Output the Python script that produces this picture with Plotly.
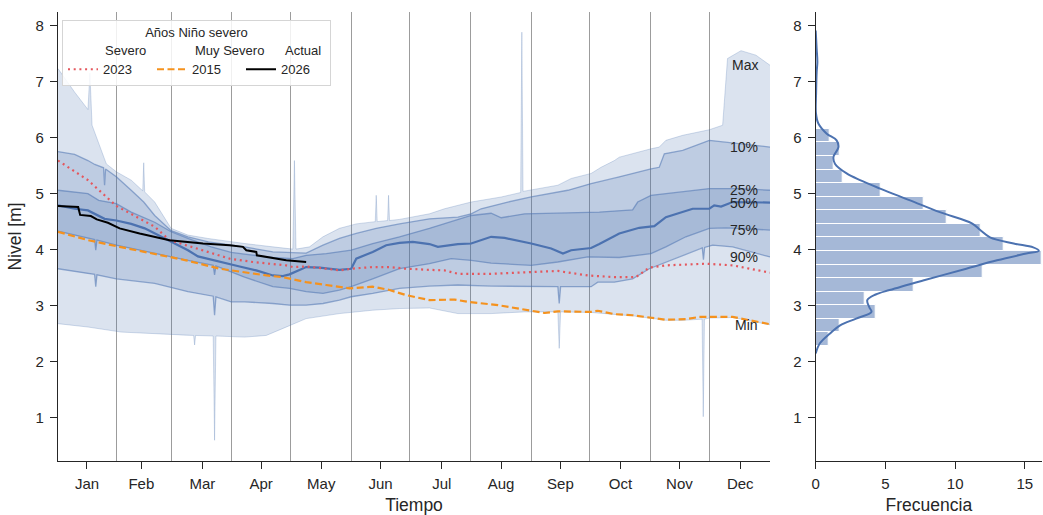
import plotly.graph_objects as go

# ---------------- data ----------------
month_labels = ["Jan", "Feb", "Mar", "Apr", "May", "Jun", "Jul", "Aug", "Sep", "Oct", "Nov", "Dec"]
month_tick_days = [16, 43.8, 75, 105, 135.7, 166, 197.3, 227.6, 257.9, 288.6, 318.7, 349.8]
month_start_days = [31, 59, 90, 120, 151, 181, 212, 243, 273, 304, 334, 365]

max_days = [1.2, 9.7, 16.5, 17.5, 18.6, 25.9, 31, 38.6, 44.5, 45, 45.5, 50.6, 59, 67.6, 77.8, 89.7, 96.5,
            111, 121.2, 122, 122.8, 129.7, 136.6, 145, 153.6, 163.3, 163.8, 164.3, 169.6, 170.1, 170.6, 175.7,
            191, 198.7, 212.3, 227.7, 237.6, 238.2, 238.8, 256.6, 263.4, 273.6, 278.7, 285.5, 288, 304.2,
            308.4, 311.8, 320.4, 334, 340.8, 343.3, 350.2, 357.8, 365]
max_vals = [7.23, 6.81, 6.50, 7.15, 6.22, 5.53, 5.39, 5.24, 5.05, 5.55, 5.03, 4.85, 4.38, 4.26, 4.20, 4.14, 4.11,
            4.05, 4.01, 5.59, 4.01, 4.05, 4.23, 4.38, 4.46, 4.50, 4.97, 4.50, 4.52, 4.97, 4.52, 4.54,
            4.64, 4.73, 4.85, 4.94, 5.02, 7.88, 5.04, 5.15, 5.27, 5.36, 5.47, 5.59, 5.65, 5.80,
            5.83, 5.95, 6.04, 6.14, 6.22, 7.41, 7.55, 7.47, 7.29]

p10_days = [1.2, 9.7, 16.5, 20, 24.5, 25, 25.5, 31, 38.6, 45, 50.6, 59, 67.6, 78, 90, 96.5, 111, 121.2, 128,
            136.6, 145, 153.6, 163.8, 175.7, 191, 205.5, 212.3, 217.4, 231, 243, 261.7, 273.6, 285.5, 288,
            304.2, 308.4, 311, 320.4, 334, 345.9, 365]
p10_vals = [5.75, 5.70, 5.59, 5.52, 5.46, 5.15, 5.44, 5.30, 5.06, 4.85, 4.61, 4.34, 4.23, 4.14, 4.08, 4.05, 3.96,
            3.94, 3.94, 4.08, 4.20, 4.29, 4.38, 4.46, 4.55, 4.58, 4.64, 4.73, 4.85, 4.94, 5.06, 5.18, 5.27,
            5.30, 5.44, 5.47, 5.71, 5.77, 5.95, 5.90, 5.83]

p25_days = [1.2, 16.5, 22, 31, 38.6, 50.6, 59, 67.6, 79.5, 89.7, 96.5, 111, 121.2, 128, 138.3, 151, 162, 175.7,
            191, 212.3, 222.5, 227.7, 239.6, 256.6, 277.8, 294.8, 297.4, 304.2, 320.4, 334, 349.3, 365]
p25_vals = [5.06, 5.00, 4.88, 4.82, 4.67, 4.49, 4.32, 4.20, 4.05, 3.95, 3.92, 3.86, 3.84, 3.90, 3.93, 3.99, 4.11,
            4.23, 4.38, 4.61, 4.65, 4.57, 4.64, 4.65, 4.67, 4.71, 4.85, 4.97, 5.03, 5.09, 5.09, 5.06]

p50_days = [1.2, 9.7, 16.5, 25, 31, 38.6, 45.5, 50.6, 59, 67.6, 72.7, 83.8, 94, 102.5, 111, 116.1, 119.5, 128,
            134.9, 145, 151, 153.6, 162, 168.9, 175.7, 182.5, 191, 195.3, 205.5, 212.3, 222.5, 229.4, 243,
            253.2, 259.2, 263.4, 273.6, 277.8, 288, 298.2, 305.9, 311.8, 318.7, 325.5, 334, 336.5, 340,
            345.9, 365]
p50_vals = [4.79, 4.73, 4.70, 4.55, 4.52, 4.46, 4.38, 4.29, 4.14, 3.99, 3.88, 3.78, 3.70, 3.63, 3.54, 3.53, 3.56,
            3.69, 3.68, 3.64, 3.66, 3.84, 3.96, 4.08, 4.12, 4.14, 4.10, 4.05, 4.10, 4.11, 4.23, 4.21, 4.11,
            4.02, 3.93, 3.99, 4.03, 4.10, 4.29, 4.39, 4.42, 4.58, 4.65, 4.73, 4.73, 4.79, 4.77, 4.85, 4.84]

p75_days = [1.2, 16.5, 19.9, 20.5, 21.1, 31, 50.6, 67.6, 80.5, 81.2, 81.9, 96.5, 111, 119.5, 128, 136.6, 145,
            151, 162, 175.7, 191, 202.1, 212.3, 222.5, 243, 256.6, 271.9, 288, 304.2, 311.8, 322, 334, 342.5,
            365]
p75_vals = [4.33, 4.20, 4.18, 3.99, 4.17, 4.08, 3.93, 3.81, 3.72, 3.55, 3.71, 3.51, 3.34, 3.31, 3.25, 3.22, 3.28,
            3.34, 3.48, 3.66, 3.75, 3.84, 3.81, 3.76, 3.72, 3.78, 3.87, 3.86, 3.93, 4.05, 4.23, 4.38, 4.39,
            4.35]

p90_days = [1.2, 16.5, 19.9, 20.5, 21.1, 31, 50.6, 67.6, 80.5, 81.2, 81.9, 89.7, 96.5, 111, 119.5, 128, 136.6,
            145, 151, 162, 175.7, 191, 205.5, 222.5, 243, 256.6, 257.3, 258, 273.6, 277, 285.5, 294.8, 303.3,
            311.8, 328.9, 330.4, 331, 331.6, 335.7, 345.9, 365]
p90_vals = [3.66, 3.57, 3.56, 3.34, 3.55, 3.48, 3.40, 3.25, 3.17, 2.83, 3.16, 3.07, 3.07, 3.04, 3.01, 3.01, 3.04,
            3.10, 3.16, 3.22, 3.31, 3.35, 3.37, 3.35, 3.34, 3.34, 3.04, 3.34, 3.34, 3.42, 3.42, 3.48, 3.66,
            3.78, 4.02, 4.03, 3.82, 4.04, 4.08, 4.05, 3.87]

min_days = [1.2, 16.5, 33.5, 50.6, 67.6, 70.5, 71, 71.5, 80.5, 81.2, 81.9, 96.5, 107.6, 116, 128, 145, 162,
            175.7, 191, 205.5, 222.5, 239.6, 256.6, 257.3, 258, 273.6, 285.5, 294.8, 311.8, 320.4, 330.3,
            330.9, 331.5, 334, 345.9, 365]
min_vals = [2.68, 2.62, 2.53, 2.50, 2.47, 2.47, 2.30, 2.47, 2.46, 0.60, 2.46, 2.44, 2.47, 2.59, 2.77, 2.86, 2.92,
            2.95, 2.96, 2.86, 2.86, 2.89, 2.89, 2.24, 2.89, 2.88, 2.84, 2.82, 2.74, 2.74, 2.76, 1.02, 2.76,
            2.78, 2.79, 2.66]

y2023_days = [1.2, 16.5, 31, 50.6, 58.2, 66.7, 75.3, 88.9, 100.8, 117.8, 121.2, 128, 138.3, 145, 151, 162,
              170.6, 179, 191, 198.7, 205.5, 222.5, 243, 256.6, 271.9, 285.5, 296.5, 303.3, 311.8, 332.3,
              345.9, 365]
y2023_vals = [5.59, 5.24, 4.78, 4.41, 4.17, 4.08, 3.99, 3.84, 3.78, 3.72, 3.69, 3.70, 3.66, 3.63, 3.66, 3.69,
              3.69, 3.66, 3.64, 3.63, 3.57, 3.57, 3.60, 3.62, 3.54, 3.51, 3.51, 3.68, 3.72, 3.75, 3.72, 3.59]

y2015_days = [1.2, 16.5, 32.7, 49.7, 66.7, 83.8, 100.8, 107.6, 116, 128, 138.3, 150.2, 162, 170.6, 179, 191,
              203.8, 210.6, 226, 232.8, 243, 249.8, 256.6, 273.6, 277, 285.5, 294.8, 311.8, 322, 328.9, 345.9,
              365]
y2015_vals = [4.32, 4.17, 4.05, 3.93, 3.81, 3.66, 3.57, 3.54, 3.51, 3.42, 3.37, 3.31, 3.34, 3.28, 3.19, 3.10,
              3.11, 3.07, 3.01, 2.97, 2.92, 2.87, 2.90, 2.89, 2.91, 2.85, 2.83, 2.75, 2.76, 2.80, 2.80, 2.67]

y2026_days = [1.2, 11.5, 12.5, 18, 21, 26.7, 32.7, 42.9, 58.2, 75.3, 88.9, 95.7, 97.4, 102.5, 102.8, 112.7,
              117.8, 128]
y2026_vals = [4.78, 4.76, 4.62, 4.60, 4.54, 4.48, 4.38, 4.29, 4.17, 4.11, 4.08, 4.05, 3.99, 3.96, 3.90, 3.84,
              3.81, 3.78]

pct_labels = ["Max", "10%", "25%", "50%", "75%", "90%", "Min"]

# histogram (percent of observations per level bin)
hist_edges = [2.283, 2.525, 2.767, 3.009, 3.251, 3.493, 3.735, 3.977, 4.219, 4.461, 4.703, 4.945, 5.187,
              5.429, 5.671, 5.913, 6.155]
hist_counts = [0.93, 1.75, 4.33, 3.54, 7.03, 11.99, 16.2, 13.5, 11.8, 9.4, 7.73, 4.69, 1.94, 1.27, 1.75, 1.03]

kde_levels = [2.15, 2.33, 2.50, 2.65, 2.77, 2.89, 2.97, 3.10, 3.20, 3.28, 3.45, 3.66, 3.81, 3.93, 3.98, 4.04,
              4.11, 4.22, 4.35, 4.47, 4.67, 4.88, 5.09, 5.24, 5.36, 5.53, 5.65, 5.83, 5.95, 6.07, 6.25, 6.43,
              6.80, 7.17, 7.35, 7.58, 7.91]
kde_density = [0.0, 0.3, 1.0, 1.75, 2.9, 4.0, 3.85, 3.7, 4.3, 5.3, 7.7, 10.8, 13.0, 15.1, 16.0, 15.6, 14.2,
               12.5, 11.8, 11.2, 8.9, 6.77, 4.62, 3.18, 2.22, 1.39, 1.27, 1.63, 1.5, 0.79, 0.19, 0.02, 0.03,
               0.07, 0.12, 0.07, 0.0]

# ---------------- styling ----------------
BLUE = "#4C72B0"
BAND = "rgba(76,114,176,0.2)"
TXT = "#262626"
FONT = "Liberation Sans, Arial, sans-serif"

fig = go.Figure()


def band(up_d, up_v, lo_d, lo_v):
    fig.add_trace(go.Scatter(x=list(up_d) + list(lo_d)[::-1], y=list(up_v) + list(lo_v)[::-1],
                             fill="toself", fillcolor=BAND, mode="none", showlegend=False,
                             hoverinfo="skip"))


band(max_days, max_vals, min_days, min_vals)
band(p10_days, p10_vals, p90_days, p90_vals)
band(p25_days, p25_vals, p75_days, p75_vals)

for d, v in [(max_days, max_vals), (min_days, min_vals)]:
    fig.add_trace(go.Scatter(x=d, y=v, mode="lines", line=dict(color="rgba(76,114,176,0.25)", width=1),
                             showlegend=False, hoverinfo="skip"))
for d, v in [(p10_days, p10_vals), (p25_days, p25_vals), (p75_days, p75_vals), (p90_days, p90_vals)]:
    fig.add_trace(go.Scatter(x=d, y=v, mode="lines", line=dict(color="rgba(76,114,176,0.55)", width=1.3),
                             showlegend=False, hoverinfo="skip"))
fig.add_trace(go.Scatter(x=p50_days, y=p50_vals, mode="lines", line=dict(color=BLUE, width=2.2),
                         showlegend=False))

fig.add_trace(go.Scatter(x=y2023_days, y=y2023_vals, mode="lines", name="2023",
                         line=dict(color="#e4575d", width=2.2, dash="2px,3.7px")))
fig.add_trace(go.Scatter(x=y2015_days, y=y2015_vals, mode="lines", name="2015",
                         line=dict(color="#f5921e", width=2.2, dash="7px,3.5px")))
fig.add_trace(go.Scatter(x=y2026_days, y=y2026_vals, mode="lines", name="2026",
                         line=dict(color="#000000", width=2)))

# histogram
centers = [(hist_edges[i] + hist_edges[i + 1]) / 2 for i in range(len(hist_counts))]
widths = [hist_edges[i + 1] - hist_edges[i] for i in range(len(hist_counts))]
fig.add_trace(go.Bar(x=hist_counts, y=centers, width=widths, orientation="h", xaxis="x2", yaxis="y2",
                     marker=dict(color="rgba(76,114,176,0.5)", line=dict(color="white", width=1)),
                     showlegend=False))
fig.add_trace(go.Scatter(x=kde_density, y=kde_levels, mode="lines", xaxis="x2", yaxis="y2",
                         line=dict(color=BLUE, width=2, shape="spline"), showlegend=False))

# percentile labels at the end of each curve
ends = [max_vals[-1], p10_vals[-1], p25_vals[-1], p50_vals[-1], p75_vals[-1], p90_vals[-1], min_vals[-1]]
annotations = []
for lab, v in zip(pct_labels, ends):
    annotations.append(dict(x=365, y=v, xref="x", yref="y", text=lab, showarrow=False, xanchor="right",
                            yanchor="middle", xshift=-10, font=dict(size=14, color=TXT, family=FONT)))

# geometry helpers (pixel -> paper)
W, H, L, T, B, R = 1043, 515, 58, 12, 54, 1
PW, PH = W - L - R, H - T - B


def px(xp):
    return (xp - L) / PW


def py(yp):
    return 1 - (yp - T) / PH


LEG_X = 62
ENTRY = 44
# legend column headers, left-aligned with the legend entry texts
for i, txt in enumerate(["Severo", "Muy Severo", "Actual"]):
    annotations.append(dict(x=px(LEG_X + 41 + i * (ENTRY + 46)), y=py(50), xref="paper", yref="paper",
                            text=txt, showarrow=False, xanchor="left", yanchor="middle",
                            font=dict(size=13, color=TXT, family=FONT)))

axis_common = dict(showline=True, linecolor=TXT, linewidth=1.25, ticks="outside", ticklen=7, tickwidth=1.25,
                   tickcolor=TXT, showgrid=False, zeroline=False, automargin=False,
                   tickfont=dict(size=15, color=TXT, family=FONT),
                   title_font=dict(size=17.5, color=TXT, family=FONT))

fig.update_layout(
    width=W, height=H, margin=dict(l=L, r=R, t=T, b=B),
    paper_bgcolor="white", plot_bgcolor="white",
    font=dict(family=FONT, color=TXT),
    bargap=0,
    xaxis=dict(domain=[0, (770 - L) / PW], range=[1.2, 365], tickmode="array", tickvals=month_tick_days,
               ticktext=month_labels, title=dict(text="Tiempo", standoff=8), ticklabelstandoff=2,
               minor=dict(tickvals=month_start_days, showgrid=True, gridcolor="rgba(90,90,90,0.6)",
                          gridwidth=1, ticks=""),
               **axis_common),
    yaxis=dict(range=[0.23, 8.24], tickmode="array", tickvals=[1, 2, 3, 4, 5, 6, 7, 8], ticklabelstandoff=3,
               title=dict(text="Nivel [m]", standoff=9), anchor="x", **axis_common),
    xaxis2=dict(domain=[px(815.7), 1], range=[0, 16.23], tickmode="array", tickvals=[0, 5, 10, 15],
                ticklabelstandoff=2, title=dict(text="Frecuencia", standoff=8), anchor="y2", **axis_common),
    yaxis2=dict(range=[0.23, 8.24], tickmode="array", tickvals=[1, 2, 3, 4, 5, 6, 7, 8], anchor="x2",
                ticklabelstandoff=3, **axis_common),
    legend=dict(orientation="h", x=px(LEG_X), y=py(19.5), xanchor="left", yanchor="top",
                bgcolor="rgba(255,255,255,0.85)", bordercolor="#d5d5d5", borderwidth=1,
                font=dict(size=13, color=TXT, family=FONT), entrywidth=ENTRY,
                title=dict(text="Años Niño severo<br>&nbsp;", side="top center",
                           font=dict(size=13, color=TXT, family=FONT))),
    annotations=annotations,
)

fig.write_html("out.html", config={"displayModeBar": False},
               post_script="document.body.style.margin='0';")
